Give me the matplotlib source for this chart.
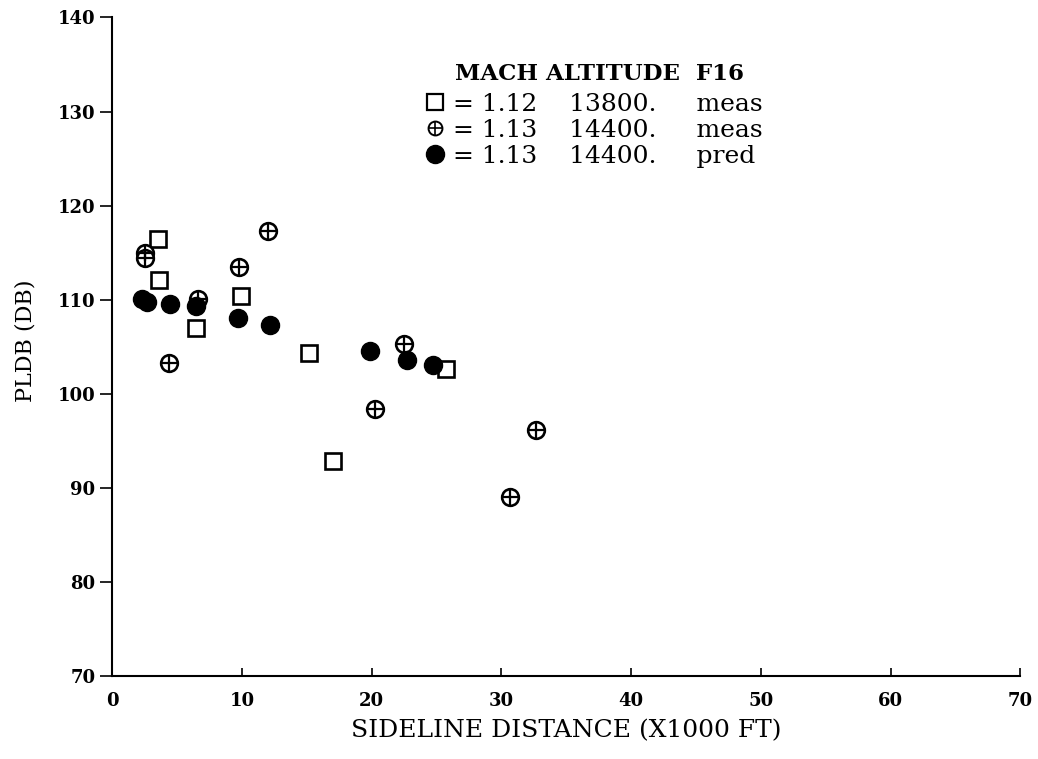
import matplotlib.pyplot as plt
from matplotlib.lines import Line2D

plt.rcParams['font.family'] = ['DejaVu Serif']

# sideline distance (x1000 ft) and PLdB
sq_x = [3.5, 3.6, 6.5, 9.9, 15.2, 17.0, 25.7]
sq_y = [116.5, 112.1, 107.0, 110.4, 104.3, 92.9, 102.6]

ox_x = [2.5, 2.5, 6.6, 4.4, 12.0, 9.8, 22.5, 20.3, 32.7, 30.7]
ox_y = [115.0, 114.4, 110.1, 103.3, 117.3, 113.5, 105.3, 98.4, 96.2, 89.1]

pr_x = [2.3, 2.7, 4.5, 6.5, 9.7, 12.2, 19.9, 22.7, 24.7]
pr_y = [110.1, 109.8, 109.6, 109.3, 108.1, 107.3, 104.6, 103.6, 103.1]

x_ticks = [0, 10, 20, 30, 40, 50, 60, 70]
y_ticks = [70, 80, 90, 100, 110, 120, 130, 140]

fig = plt.figure(figsize=(10.38, 7.59), dpi=100)
ax = fig.add_axes([0.108, 0.109, 0.875, 0.868])

ms = 12
ax.plot(sq_x, sq_y, 's', ms=ms, mfc='white', mec='black', mew=1.9, ls='none')
ax.plot(ox_x, ox_y, 'o', ms=ms, mfc='white', mec='black', mew=1.9, ls='none')
ax.plot(ox_x, ox_y, '+', ms=ms, mec='black', mew=1.6, ls='none')
ax.plot(pr_x, pr_y, 'o', ms=13, mfc='black', mec='black', ls='none')

ax.set_xlim(0, 70)
ax.set_ylim(70, 140)
ax.set_xticks(x_ticks)
ax.set_yticks(y_ticks)
for s in ['top', 'right']:
    ax.spines[s].set_visible(False)
for s in ['left', 'bottom']:
    ax.spines[s].set_linewidth(1.5)
ax.tick_params(axis='x', direction='in', length=6, width=1.2, pad=11, labelsize=13)
ax.tick_params(axis='y', direction='out', length=9, width=1.2, pad=3, labelsize=13)
for lab in ax.get_xticklabels() + ax.get_yticklabels():
    lab.set_fontweight('bold')

ax.set_xlabel('SIDELINE DISTANCE (X1000 FT)', fontsize=18, labelpad=7)
ax.set_ylabel('PLDB (DB)', fontsize=16, labelpad=14)
ax.yaxis.set_label_coords(-0.083, 0.51)

# legend block
cross = Line2D([], [], marker='o', ms=10, mfc='white', mec='black', mew=1.4, ls='none')
handles = [
    Line2D([], [], marker='s', ms=11, mfc='white', mec='black', mew=1.6, ls='none'),
    (cross, Line2D([], [], marker='+', ms=10, mec='black', mew=1.2, ls='none')),
    Line2D([], [], marker='o', ms=13, mfc='black', mec='black', ls='none'),
]
labels = ['= 1.12    13800.     meas',
          '= 1.13    14400.     meas',
          '= 1.13    14400.     pred']
leg = ax.legend(handles, labels, loc='upper left', bbox_to_anchor=(0.345, 0.886),
                frameon=False, fontsize=18, handlelength=0.8, handletextpad=0.3,
                borderpad=0, labelspacing=0.12, borderaxespad=0)
fig.text(0.438, 0.902, 'MACH ALTITUDE  F16', fontsize=16.5, fontweight='semibold',
         ha='left', va='center')

fig.savefig('out.png', dpi=100)
